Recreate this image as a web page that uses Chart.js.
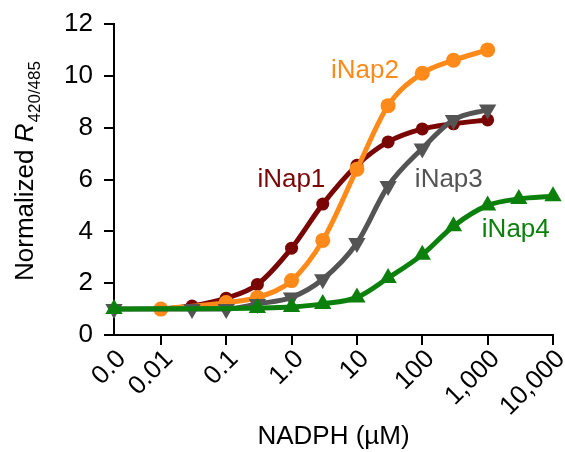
<!DOCTYPE html>
<html>
<head>
<meta charset="utf-8">
<script src="https://cdn.jsdelivr.net/npm/chart.js@4.4.0/dist/chart.umd.min.js"></script>
<style>
  html, body { margin: 0; padding: 0; background: #fff; }
</style>
</head>
<body>
<canvas id="myChart" width="565" height="452"></canvas>
<script>
// NADPH concentrations (uM), 0 = no NADPH
const conc = [0, 0.01, 0.03, 0.1, 0.3, 1, 3, 10, 30, 100, 300, 1000, 3000, 10000]

const inap1 = [null, 1.0, 1.12, 1.42, 1.95, 3.35, 5.05, 6.55, 7.45, 7.95, 8.15, 8.3, null, null]
const inap2 = [null, 1.0, null, 1.25, 1.45, 2.1, 3.65, 6.4, 8.85, 10.1, 10.6, 11.0, null, null]
const inap3 = [1.0, null, 1.0, 1.0, 1.2, 1.45, 2.15, 3.55, 5.75, 7.2, 8.3, 8.7, null, null]
const inap4 = [1.0, null, null, null, 1.04, 1.08, 1.2, 1.45, 2.2, 3.1, 4.2, 5.0, 5.25, 5.35]

const xTicks = [0, 0.01, 0.1, 1, 10, 100, 1000, 10000]
const xTickLabels = ['0.0', '0.01', '0.1', '1.0', '10', '100', '1,000', '10,000']

// the "0" point sits left of 0.01 on the log axis (axis break)
const ZERO_AT = 0.00192

const RED = '#7a0505'
const ORANGE = '#ff8a1a'
const GRAY = '#545454'
const GREEN = '#0c800c'
const FONT = '"Liberation Sans", Arial, Helvetica, sans-serif'

const toX = (c) => c === 0 ? ZERO_AT : c
const points = (vals) => conc.map((c, i) => ({ x: toX(c), y: vals[i] })).filter(p => p.y !== null)

const series = (label, vals, color, style, rot, r) => ({
    label: label,
    data: points(vals),
    borderColor: color,
    backgroundColor: color,
    borderWidth: 5,
    pointStyle: style,
    pointRotation: rot,
    pointRadius: r,
    pointHoverRadius: r,
    pointBorderWidth: 0,
    cubicInterpolationMode: 'monotone',
    clip: false
})

// text labels next to the curves, anchored in data units
const curveLabels = [
    { text: 'iNap1', x: 0.3, y: 6.0, color: RED },
    { text: 'iNap2', x: 4.0, y: 10.2, color: ORANGE },
    { text: 'iNap3', x: 77, y: 6.0, color: GRAY },
    { text: 'iNap4', x: 815, y: 4.05, color: GREEN }
]

const textPlugin = {
    id: 'texts',
    afterDraw(chart) {
        const ctx = chart.ctx
        const xs = chart.scales.x
        const ys = chart.scales.y
        ctx.save()
        ctx.font = '26px ' + FONT
        ctx.textAlign = 'left'
        ctx.textBaseline = 'middle'
        curveLabels.forEach(l => {
            ctx.fillStyle = l.color
            ctx.fillText(l.text, xs.getPixelForValue(l.x), ys.getPixelForValue(l.y))
        })
        ctx.restore()

        // y axis title: Normalized R(420/485)
        ctx.save()
        ctx.translate(33, 171)
        ctx.rotate(-Math.PI / 2)
        ctx.fillStyle = '#000'
        ctx.textBaseline = 'alphabetic'
        ctx.textAlign = 'left'
        const p1 = 'Normalized ', p2 = 'R', p3 = '420/485'
        ctx.font = '26px ' + FONT
        const w1 = ctx.measureText(p1).width
        ctx.font = 'italic 26px ' + FONT
        const w2 = ctx.measureText(p2).width
        ctx.font = '17px ' + FONT
        const w3 = ctx.measureText(p3).width
        let x0 = -(w1 + w2 + w3 + 1) / 2
        ctx.font = '26px ' + FONT
        ctx.fillText(p1, x0, 0)
        ctx.font = 'italic 26px ' + FONT
        ctx.fillText(p2, x0 + w1, 0)
        ctx.font = '17px ' + FONT
        ctx.fillText(p3, x0 + w1 + w2 + 1, 7)
        ctx.restore()
    }
}

const ctx = document.getElementById('myChart')

new Chart(ctx, {
    type: 'line',
    data: {
        datasets: [
            series('iNap4', inap4, GREEN, 'triangle', 0, 10),
            series('iNap3', inap3, GRAY, 'triangle', 180, 10),
            series('iNap2', inap2, ORANGE, 'circle', 0, 7.5),
            series('iNap1', inap1, RED, 'circle', 0, 6.5)
        ]
    },
    plugins: [textPlugin],
    options: {
        responsive: false,
        animation: false,
        events: [],
        layout: { padding: { top: 24, right: 12, left: 0, bottom: 0 } },
        plugins: {
            legend: { display: false },
            tooltip: { enabled: false }
        },
        scales: {
            x: {
                type: 'logarithmic',
                min: ZERO_AT,
                max: 10000,
                afterBuildTicks: (scale) => {
                    scale.ticks = xTicks.map(v => ({ value: toX(v) }))
                },
                afterFit: (scale) => {
                    scale.height = 117
                    scale.paddingLeft = 0
                    scale.paddingRight = 0
                },
                ticks: {
                    autoSkip: false,
                    maxRotation: 45,
                    minRotation: 45,
                    padding: -1,
                    labelOffset: 8,
                    color: '#000',
                    font: { family: FONT, size: 26 },
                    callback: (value, i) => xTickLabels[i]
                },
                grid: {
                    drawOnChartArea: false,
                    drawTicks: true,
                    tickLength: 10,
                    color: '#000',
                    tickColor: (c) => c.index === 0 ? 'rgba(0,0,0,0)' : '#000',
                    lineWidth: 2
                },
                border: { color: '#000', width: 2 },
                title: {
                    display: true,
                    text: 'NADPH (\u00b5M)',
                    color: '#000',
                    font: { family: FONT, size: 26 },
                    padding: { top: 0, bottom: 0 }
                }
            },
            y: {
                min: 0,
                max: 12,
                afterFit: (scale) => {
                    scale.width = 114
                    scale.paddingTop = 0
                    scale.paddingBottom = 0
                },
                ticks: {
                    stepSize: 2,
                    padding: 11,
                    color: '#000',
                    font: { family: FONT, size: 26 }
                },
                grid: { drawOnChartArea: false, drawTicks: true, tickLength: 10, color: '#000', lineWidth: 2 },
                border: { color: '#000', width: 2 }
            }
        }
    }
})
</script>
</body>
</html>
